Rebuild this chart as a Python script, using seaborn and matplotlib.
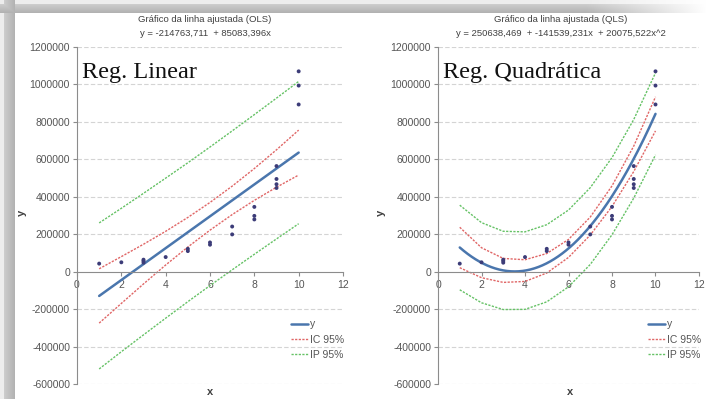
import numpy as np
import pandas as pd
import matplotlib
matplotlib.use("Agg")
import matplotlib.pyplot as plt
import seaborn as sns

# Observations (x, y)
obs_x = [1, 2, 3, 3, 3, 4, 5, 5, 6, 6, 7, 7, 8, 8, 8, 9, 9, 9, 9, 10, 10, 10]
obs_y = [43000, 50000, 64000, 57000, 48000, 78000, 122000, 110000, 156000, 144000,
         241000, 199000, 346000, 298000, 279000, 564000, 495000, 467000, 447000,
         1070000, 994000, 893000]

# Fitted coefficients
lin_coef = [-214763.711, 85083.396]
quad_coef = [250638.469, -141539.231, 20075.522]

# Band half-widths at x = 1..10
band_x = [1, 2, 3, 4, 5, 6, 7, 8, 9, 10]
lin_ic_hw = [145000, 125000, 106000, 90000, 79000, 74000, 76000, 85000, 100000, 120000]
lin_ip_hw = [390000, 383000, 378000, 374000, 371000, 370000, 371000, 373000, 376000, 380000]
quad_ic_hw = [108000, 80000, 64000, 58000, 52000, 48000, 48000, 55000, 68000, 91000]
quad_ip_hw = [226000, 214000, 209000, 207000, 206000, 205000, 205000, 206000, 210000, 219000]

titles = ["Gráfico da linha ajustada (OLS)", "Gráfico da linha ajustada (QLS)"]
equations = ["y = -214763,711  + 85083,396x",
             "y = 250638,469  + -141539,231x  + 20075,522x^2"]
badges = ["Reg. Linear", "Reg. Quadrática"]
legend_labels = ["y", "IC 95%", "IP 95%"]

yticks = [-600000, -400000, -200000, 0, 200000, 400000, 600000, 800000, 1000000, 1200000]
xticks = [0, 2, 4, 6, 8, 10, 12]

sns.set_theme(style="white")
plt.rcParams["font.family"] = ["Liberation Sans", "DejaVu Sans"]

W, H = 706, 399
fig = plt.figure(figsize=(W / 100, H / 100), dpi=100)
fig.patch.set_facecolor("white")

# Shadowed frame along the top and left edges
bg = fig.add_axes([0, 0, 1, 1], zorder=-10)
bg.set_axis_off()
img = np.ones((H, W))
left_w, top_h = 15, 13
for i in range(left_w):
    v = 0.93 if i < 4 else 0.80 - 0.10 * (i - 4) / (left_w - 5)
    img[:, i] = np.minimum(img[:, i], v)
for j in range(top_h):
    v = 0.93 if j < 4 else 0.80 - 0.10 * (j - 4) / (top_h - 5)
    fade = np.clip((W - np.arange(W)) / 120.0, 0, 1)
    row = 1 - (1 - v) * np.where(np.arange(W) > W - 120, fade, 1)
    img[j, :] = np.minimum(img[j, :], row)
bg.imshow(np.dstack([img] * 3), extent=[0, 1, 0, 1], aspect="auto", interpolation="nearest")
bg.set_xlim(0, 1)
bg.set_ylim(0, 1)

c_fit = "#4a76ad"
c_ic = "#e06666"
c_ip = "#66c266"
c_pt = "#3c3c78"
c_txt = "#404040"

def px(x0, y0):
    return x0 / W, 1 - y0 / H

bottom = 15 / H
height = 337 / H
panels = [
    dict(left=77 / W, width=266 / W, title_x=205, ylab_x=22, xlab_x=210),
    dict(left=438 / W, width=261 / W, title_x=561, ylab_x=381, xlab_x=570),
]

bx = np.array(band_x, dtype=float)
xfine = np.linspace(1, 10, 200)

for k, p in enumerate(panels):
    ax = fig.add_axes([p["left"], bottom, p["width"], height])
    ax.set_facecolor("none")

    if k == 0:
        fit_f = lin_coef[0] + lin_coef[1] * xfine
        fit_b = lin_coef[0] + lin_coef[1] * bx
        ic, ip = np.array(lin_ic_hw), np.array(lin_ip_hw)
    else:
        fit_f = quad_coef[0] + quad_coef[1] * xfine + quad_coef[2] * xfine ** 2
        fit_b = quad_coef[0] + quad_coef[1] * bx + quad_coef[2] * bx ** 2
        ic, ip = np.array(quad_ic_hw), np.array(quad_ip_hw)

    bands = pd.DataFrame({"x": bx, "ic_lo": fit_b - ic, "ic_hi": fit_b + ic,
                          "ip_lo": fit_b - ip, "ip_hi": fit_b + ip})
    fit_df = pd.DataFrame({"x": xfine, "y": fit_f})
    pts = pd.DataFrame({"x": obs_x, "y": obs_y})

    sns.lineplot(data=bands, x="x", y="ip_hi", ax=ax, color=c_ip, lw=1.0,
                 linestyle=(0, (1.6, 1.0)), label=legend_labels[2])
    sns.lineplot(data=bands, x="x", y="ip_lo", ax=ax, color=c_ip, lw=1.0,
                 linestyle=(0, (1.6, 1.0)), label="_nolegend_")
    sns.lineplot(data=bands, x="x", y="ic_hi", ax=ax, color=c_ic, lw=1.0,
                 linestyle=(0, (1.6, 1.0)), label=legend_labels[1])
    sns.lineplot(data=bands, x="x", y="ic_lo", ax=ax, color=c_ic, lw=1.0,
                 linestyle=(0, (1.6, 1.0)), label="_nolegend_")
    sns.lineplot(data=fit_df, x="x", y="y", ax=ax, color=c_fit, lw=1.8,
                 label=legend_labels[0])
    sns.scatterplot(data=pts, x="x", y="y", ax=ax, color=c_pt, s=8,
                    edgecolor="none", zorder=5, legend=False)

    ax.set_xlim(0, 12)
    ax.set_ylim(-600000, 1200000)
    ax.set_xticks(xticks)
    ax.set_yticks(yticks)
    ax.set_xticklabels([str(t) for t in xticks])
    ax.set_yticklabels([str(t) for t in yticks])
    ax.set_xlabel("")
    ax.set_ylabel("")

    for t in yticks:
        if t != 0:
            ax.axhline(t, color="#d4d4d4", lw=0.8, linestyle=(0, (4, 2)), zorder=0)

    for s in ["top", "right"]:
        ax.spines[s].set_visible(False)
    ax.spines["bottom"].set_position(("data", 0))
    ax.spines["bottom"].set_color("#8c8c8c")
    ax.spines["left"].set_color("#8c8c8c")
    ax.spines["bottom"].set_linewidth(0.8)
    ax.spines["left"].set_linewidth(0.8)
    ax.tick_params(axis="both", which="both", direction="out", length=3, width=0.8,
                   color="#8c8c8c", labelsize=7.5, labelcolor="#555555",
                   bottom=True, left=True, pad=2)
    ax.tick_params(axis="x", pad=3)

    handles, labels = ax.get_legend_handles_labels()
    order = [labels.index(l) for l in legend_labels]
    ax.legend([handles[i] for i in order], [labels[i] for i in order],
              loc="upper left", bbox_to_anchor=(0.805, 0.192), frameon=False,
              fontsize=7.5, handlelength=1.6, handletextpad=0.25,
              labelspacing=0.5, borderpad=0, borderaxespad=0,
              labelcolor="#555555")

    # Titles, labels and panel badge
    fig.text(*px(p["title_x"], 20), titles[k], ha="center", va="center",
             fontsize=6.8, color=c_txt)
    fig.text(*px(p["title_x"], 33), equations[k], ha="center", va="center",
             fontsize=6.8, color=c_txt)
    fig.text(*px(p["ylab_x"], 213), "y", rotation=90, ha="center", va="center",
             fontsize=8, fontweight="bold", color="#404040")
    fig.text(*px(p["xlab_x"], 392), "x", ha="center", va="center",
             fontsize=8, fontweight="bold", color="#404040")
    ax.text(0.02, 0.955, badges[k], transform=ax.transAxes, ha="left", va="top",
            fontsize=17.5, family=["Liberation Serif", "DejaVu Serif"], color="#111111")

fig.savefig("out.png", dpi=100)
